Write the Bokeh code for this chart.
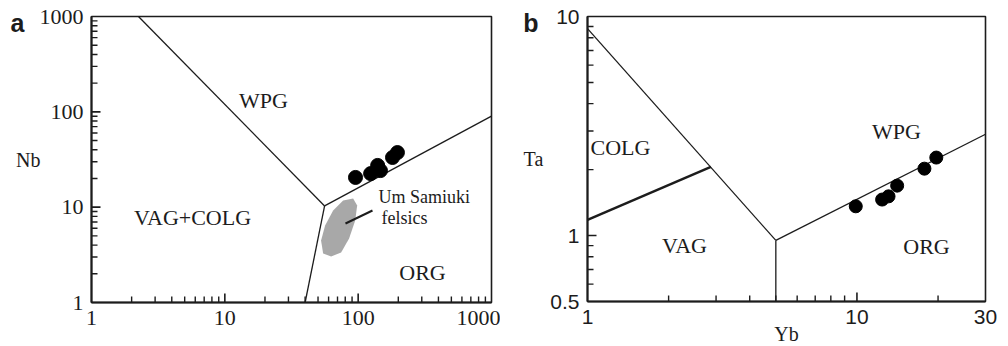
import math
from bokeh.plotting import figure
from bokeh.models import Range1d, FixedTicker, Label, NumeralTickFormatter, LogAxis
from bokeh.layouts import row
from bokeh.embed import file_html
from bokeh.resources import INLINE

# ---------------- data: panel a (Nb vs Y) ----------------
a_pts_y = [95.5, 124, 140, 147, 181, 197]
a_pts_nb = [20.5, 22.5, 27.4, 24.2, 33.2, 37.4]
# field boundaries
a_wpg_vag_x = [2.25, 56]
a_wpg_vag_y = [1000, 10.3]
a_wpg_org_x = [56, 1000]
a_wpg_org_y = [10.3, 90]
a_vag_org_x = [56, 40]
a_vag_org_y = [10.3, 1]
# Um Samiuki felsics field outline
a_field_x = [91.7, 98.3, 95, 85.5, 74.5, 62.7, 54.6, 52.7, 56.5, 64.9, 77.1]
a_field_y = [12.3, 10.4, 7.25, 4.69, 3.35, 3.04, 3.27, 4.47, 6.43, 9.23, 11.75]
a_x_ticks = [1, 10, 100, 1000]
a_y_ticks = [1, 10, 100, 1000]
a_minor = [m * d for d in (1, 10, 100) for m in range(2, 10)]

# ---------------- data: panel b (Ta vs Yb) ----------------
b_pts_yb = [9.9, 12.4, 13.1, 14.1, 17.8, 19.7]
b_pts_ta = [1.36, 1.46, 1.51, 1.69, 2.02, 2.27]
b_wpg_vag_x = [1, 5]
b_wpg_vag_y = [8.8, 0.95]
b_wpg_org_x = [5, 30]
b_wpg_org_y = [0.95, 2.9]
b_vag_org_x = [5, 5]
b_vag_org_y = [0.95, 0.5]
b_colg_vag_x = [1, 2.87]
b_colg_vag_y = [1.18, 2.06]
b_x_ticks = [1, 10, 30]
b_x_minor = [2, 3, 4, 5, 6, 7, 8, 9, 20]
b_y_ticks = [0.5, 1, 10]
b_y_minor = [0.6, 0.7, 0.8, 0.9, 2, 3, 4, 5, 6, 7, 8, 9]

INK = "#1c1c1c"
SERIF = "Liberation Serif"
SANS = "Liberation Sans"

# pixel -> data helpers for text placement (figure-local pixels)
A_L, A_R, A_T, A_B = 91, 491, 16, 302
def a_at(px, py):
    return (10 ** ((px - A_L) / (A_R - A_L) * 3), 10 ** ((A_B - py) / (A_B - A_T) * 3))

B_OFF = 500
B_L, B_R, B_T, B_B = 87, 485, 16, 301
def b_at(px, py):
    px -= B_OFF
    return (10 ** ((px - B_L) / (B_R - B_L) * math.log10(30)),
            0.5 * 10 ** ((B_B - py) / (B_B - B_T) * math.log10(20)))


def style_axes(p, font, size):
    p.grid.visible = False
    p.outline_line_color = INK
    p.outline_line_width = 1.6
    p.outline_line_alpha = 1.0
    for ax in list(p.xaxis) + list(p.yaxis):
        ax.axis_line_color = INK
        ax.axis_line_width = 2
        ax.major_tick_in = 0
        ax.major_tick_out = 0
        ax.minor_tick_in = 0
        ax.minor_tick_out = 0
        ax.major_label_text_font = font
        ax.major_label_text_font_size = size
        ax.major_label_text_color = INK
        ax.major_label_standoff = 8
        ax.formatter = NumeralTickFormatter(format="0.[0]")
        ax.axis_label_text_font = SERIF
        ax.axis_label_text_font_size = "20px"
        ax.axis_label_text_font_style = "normal"
        ax.axis_label_text_color = INK


def inward_ticks(p, x0, y0, xmajor, xminor, ymajor, yminor):
    # tick marks drawn inward from the bottom (y0) and left (x0) axes
    kw = dict(length_units="screen", line_color=INK)
    p.ray(x=xmajor, y=[y0] * len(xmajor), length=9, angle=math.pi / 2, line_width=1.6, **kw)
    p.ray(x=xminor, y=[y0] * len(xminor), length=6, angle=math.pi / 2, line_width=1.4, **kw)
    p.ray(x=[x0] * len(ymajor), y=ymajor, length=9, angle=0, line_width=1.6, **kw)
    p.ray(x=[x0] * len(yminor), y=yminor, length=6, angle=0, line_width=1.4, **kw)


def add_label(p, xy, text, font=SERIF, size="22px", align="center", style="normal"):
    p.add_layout(Label(x=xy[0], y=xy[1], text=text, text_align=align,
                       text_baseline="middle", text_font=font,
                       text_font_size=size, text_color=INK, text_font_style=style))


def panel_letter(p, at_value, letter, standoff):
    # bold panel letter, drawn as the only label of an extra, line-less left axis
    ax = LogAxis(ticker=FixedTicker(ticks=[at_value], minor_ticks=[]),
                 major_label_overrides={at_value: letter},
                 axis_line_color=None, major_tick_line_color=None, minor_tick_line_color=None,
                 major_tick_in=0, major_tick_out=0, minor_tick_in=0, minor_tick_out=0,
                 major_label_standoff=standoff, major_label_text_font=SANS,
                 major_label_text_font_style="bold", major_label_text_font_size="25px",
                 major_label_text_color=INK)
    p.add_layout(ax, "left")


# ---------------- panel a ----------------
pa = figure(frame_width=400, frame_height=286, x_axis_type="log", y_axis_type="log",
            x_range=Range1d(1, 1000), y_range=Range1d(1, 1000),
            min_border_left=91, min_border_right=9, min_border_top=16, min_border_bottom=44,
            output_backend="svg", toolbar_location=None)
style_axes(pa, SERIF, "22px")
pa.xaxis.ticker = FixedTicker(ticks=a_x_ticks, minor_ticks=a_minor)
pa.yaxis.ticker = FixedTicker(ticks=a_y_ticks, minor_ticks=a_minor)
pa.yaxis.axis_label = "Nb"
pa.yaxis.axis_label_orientation = "horizontal"
pa.yaxis.axis_label_standoff = -4
panel_letter(pa, 850, "a", -11)

pa.patch(a_field_x, a_field_y, fill_color="#a8a8a8", line_color=None)
for xs, ys in ((a_wpg_vag_x, a_wpg_vag_y), (a_wpg_org_x, a_wpg_org_y), (a_vag_org_x, a_vag_org_y)):
    pa.line(xs, ys, line_color=INK, line_width=1.3)
lx0, ly0 = a_at(345, 223)
lx1, ly1 = a_at(372, 210)
pa.line([lx0, lx1], [ly0, ly1], line_color=INK, line_width=2)
pa.scatter(a_pts_y, a_pts_nb, size=14, fill_color="black", line_color="black")
inward_ticks(pa, 1, 1, a_x_ticks[1:-1], a_minor, a_y_ticks[1:-1], a_minor)

add_label(pa, a_at(263, 100), "WPG")
add_label(pa, a_at(192, 217), "VAG+COLG")
add_label(pa, a_at(422, 272), "ORG")
add_label(pa, a_at(378, 196), "Um Samiuki", size="18px", align="left")
add_label(pa, a_at(381, 217), "felsics", size="18px", align="left")

# ---------------- panel b ----------------
pb = figure(frame_width=398, frame_height=285, x_axis_type="log", y_axis_type="log",
            x_range=Range1d(1, 30), y_range=Range1d(0.5, 10),
            min_border_left=87, min_border_right=23, min_border_top=16, min_border_bottom=45,
            output_backend="svg", toolbar_location=None)
style_axes(pb, SANS, "21px")
pb.xaxis.ticker = FixedTicker(ticks=b_x_ticks, minor_ticks=b_x_minor)
pb.yaxis.ticker = FixedTicker(ticks=b_y_ticks, minor_ticks=b_y_minor)
pb.yaxis.axis_label = "Ta"
pb.yaxis.axis_label_orientation = "horizontal"
pb.yaxis.axis_label_standoff = 4
pb.xaxis.axis_label = "Yb"
pb.xaxis.axis_label_standoff = -4
panel_letter(pb, 9.3, "b", -18)

for xs, ys in ((b_wpg_vag_x, b_wpg_vag_y), (b_wpg_org_x, b_wpg_org_y), (b_vag_org_x, b_vag_org_y)):
    pb.line(xs, ys, line_color=INK, line_width=1.3)
pb.line(b_colg_vag_x, b_colg_vag_y, line_color=INK, line_width=2.5)
pb.scatter(b_pts_yb, b_pts_ta, size=13, fill_color="black", line_color="black")
inward_ticks(pb, 1, 0.5, b_x_ticks[1:-1], b_x_minor, b_y_ticks[1:-1], b_y_minor)

add_label(pb, b_at(620, 147), "COLG")
add_label(pb, b_at(896, 131), "WPG")
add_label(pb, b_at(684, 245), "VAG")
add_label(pb, b_at(926, 246), "ORG")

layout = row(pa, pb)
open("out.html", "w").write(file_html(layout, INLINE))
